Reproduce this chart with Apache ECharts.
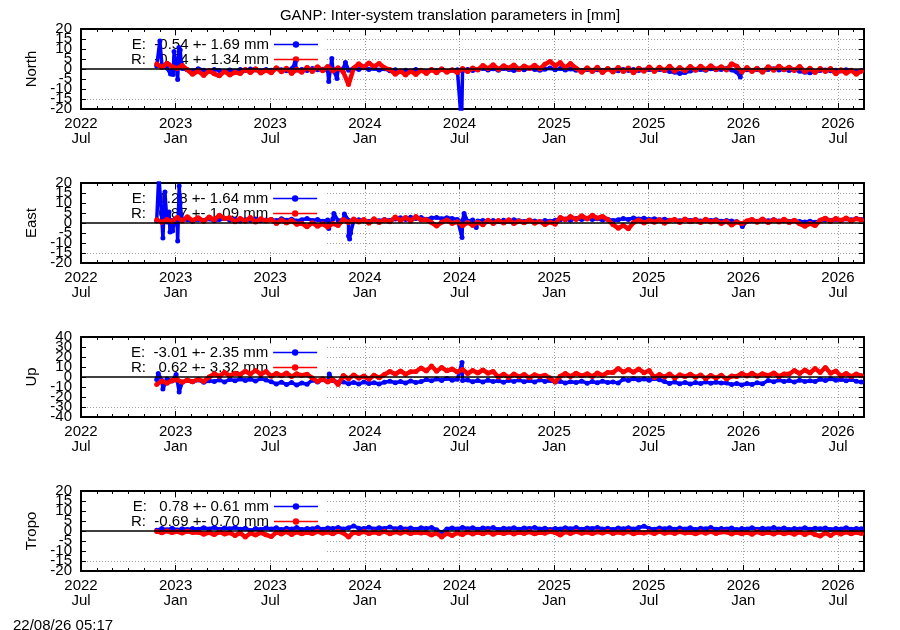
<!DOCTYPE html>
<html>
<head>
<meta charset="utf-8">
<script src="https://cdn.jsdelivr.net/npm/echarts@6/dist/echarts.min.js"></script>
<style>
html, body { margin: 0; padding: 0; background: #fff; }
#chart { width: 900px; height: 630px; }
</style>
</head>
<body>
<div id="chart"></div>
<script>
// daily solutions resampled every 10 days from 2022-11-25
var startDate = Date.UTC(2022, 10, 25);
var stepDays = 10;

var panelNames = ['North', 'East', 'Up', 'Tropo'];
var eLabels = ['E:  -0.54 +- 1.69 mm', 'E:   1.28 +- 1.64 mm', 'E:  -3.01 +- 2.35 mm', 'E:   0.78 +- 0.61 mm'];
var rLabels = ['R:  -0.54 +- 1.34 mm', 'R:   0.87 +- 1.09 mm', 'R:   0.62 +- 3.32 mm', 'R:  -0.69 +- 0.70 mm'];
var yMin = [-20, -20, -40, -20];
var yMax = [20, 20, 40, 20];
var yStep = [5, 5, 10, 5];

var northE = [1.5, 2.0, 0.5, -1.0, 0.8, 0.2,
  -0.4, -0.9, 0.1, -0.6, -1.1, -0.2, -0.8, -1.3, -0.5, -1.0, -0.3, -0.7, 0.0, -0.5, -0.9, -0.2,
  -0.6, 0.2, -0.4, -0.9, 0.1, -0.5, -0.2, -0.8, 0.3, -0.4, -0.1, -0.7, 0.0, -0.5, 0.2,
  -0.6, 0.4, -0.2, 0.6, -0.3, 0.3, -0.5, 0.1,
  -0.9, -0.4, -1.3, -0.6, -1.0, -0.2, -0.8, -1.2, -0.5, -0.9, -0.3, -1.1, -0.6,
  -0.4, -0.9, -0.2, -0.7,
  -0.2, 0.3, -0.5, 0.1, -0.6, 0.2, -0.3, -0.8, 0.0, -0.4, 0.4, -0.2, -0.6,
  -0.1, 0.5, -0.4, 0.2, -0.5, 0.0, -0.6,
  -0.7, -0.2, -1.0, -0.4, -0.8, 0.0, -0.6, -0.9, -0.3, -0.7, -0.2, -0.8, -0.5,
  -0.3, -0.8, -0.2, -0.6, -1.2, -1.6, -2.2, -1.8, -1.0, -0.5,
  -0.2, -0.6, 0.1, -0.4, -0.2, 0.3, -0.5, -1.5,
  -0.9, -0.4, -0.8, -0.2, -0.6, -0.3, 0.1, -0.5, -0.2, -0.7, -0.4, -1.1,
  -1.6, -1.9, -1.4, -0.8, -0.5, -0.9, -0.6, -1.0, -0.4, -0.8, -1.2, -0.9];
var northESpikes = [[6, 14], [27, -2.5], [32, -2.7], [34, 8.7], [38.5, 1], [41, -5.2], [43.5, 10.8],
  [46, 9.5], [48, 3], [267, 3.0], [332, -6.3], [338, 5.3], [348, -4.7], [364, 3.3], [588, -28], [1127, -4.0]];
var northR = [2.5, 0.8, 2.9, 1.2, 0.3, 1.8,
  -0.4, -2.6, -1.0, -3.2, -0.8, -2.4, -3.4, -1.2, -3.0, -1.6,
  -2.3, -0.2, -1.8, 0.1, -2.0, -0.6, -1.9, 0.6, -1.4, 0.4, -2.2, -0.1, -1.6, 0.8,
  -1.2, 1.1, -0.9, 1.3, -1.0, 0.6, -1.5, -7.8,
  0.4, 2.6, 0.9, 3.0, 1.2, 2.8, 0.6,
  -0.3, -2.6, -0.9, -3.0, -1.1, -2.7, -0.6,
  -2.2, -0.2, -1.9, 0.1, -1.6, -0.4, -1.8, 0.3, -1.3, 0.5,
  -0.5, 1.8, 0.2, 2.1, -0.2, 1.6, 0.4, 2.0, -0.3, 1.5, 0.3, 1.9, 0.0,
  2.4, 3.8, 1.6, 3.2, 0.6, 2.7, 0.4,
  -1.6, 0.6, -1.2, 0.9, -1.8, 0.3, -1.5, 0.8, -1.3, 0.5, -1.9, 0.4, -1.1,
  1.0, -1.2, 0.9, -0.8, 1.4, -1.1, 0.7, -0.9, 1.2, -0.6,
  1.4, -0.4, 1.6, -0.2, 1.1, -0.5, 2.6, 1.4,
  -1.5, 0.7, -1.2, 0.4, -1.6, 1.1, -0.6, 1.4, -0.4, 0.9, -0.8, 1.3,
  -1.4, 0.4, -1.7, 0.3, -1.2, 0.2, -2.4, -0.4, -2.1, -0.6, -2.6, -1.0];

var eastE = [1.0, 1.5, 0.5, 1.2, 0.8, 1.5,
  1.6, 0.9, 1.8, 1.2, 2.0, 1.1, 1.7, 2.2, 1.4, 1.9, 1.0, 1.6, 1.3, 2.0, 1.1, 1.5,
  1.8, 1.2, 2.1, 1.4, 1.9, 1.0, 1.6, 2.2, 1.3, 1.7, 0.9, 1.5, 2.0, 1.2, 1.8,
  1.4, 1.0, 1.6, 1.2, 0.8, 1.5, 1.1, 1.7, 1.3,
  2.0, 2.6, 1.8, 2.9, 2.2, 2.7, 1.9, 2.5, 2.8, 2.1, 2.6, 2.3,
  1.8, 1.2, 0.9, 1.5, 1.0, 1.3, 0.8,
  1.2, 0.7, 1.4, 0.9, 1.6, 1.1, 0.8, 1.3, 1.0, 0.6, 1.2, 0.9, 1.4,
  1.6, 2.0, 1.4, 2.2, 1.7, 2.4, 1.8, 2.1, 1.5, 1.9, 1.2, 1.6,
  2.2, 1.8, 2.5, 2.0, 2.4, 1.7, 2.1, 1.6, 1.9, 1.4,
  1.5, 1.1, 1.7, 1.3, 1.8, 1.0, 1.4, 1.2, 1.6, 0.9, 1.3, 1.0, 0.6,
  -0.5, 0.8, 1.2, 0.9, 1.4, 1.1, 1.6, 1.0, 1.3, 0.8, 1.2, 0.7,
  0.5, 0.9, 0.4, 1.1, 1.5, 1.2, 1.8, 1.4, 2.0, 1.6, 2.2, 1.8];
var eastESpikes = [[4, 24], [12, -7.5], [16, 15.5], [22, 1], [24, 5.5], [26, -4.5], [31, -4], [36, 2],
  [41, -9], [44, 18.5], [46, 10], [49, 2], [332, -2.7], [342, 4.8], [362, 4.5], [370, -6.5], [372, -8],
  [374, -5], [589, -7.2], [593, 4.8], [617, -2.2], [1131, -1.8]];
var eastR = [1.6, 0.4, 1.8, 0.6,
  2.8, 1.0, 3.1, 1.2, 2.6, 0.9, 3.0, 1.5, 3.9, 2.2,
  2.6, 0.6, 2.3, 0.9, 2.7, 0.5, 2.1, 1.0,
  1.8, -0.3, 1.5, 0.0, 1.2, -0.6, -0.2, -1.9, 0.1, -1.6, -0.4, -2.0, -0.3, -1.2,
  1.8, 0.2, 2.0, 0.5, 1.7, -0.1, 2.1, 0.3, 1.6, 0.6,
  3.0, 1.2, 2.8, 1.0, 3.2, 1.5,
  1.6, 0.2, -1.5, 0.4, 1.5, -0.2, 0.6, -1.4, 0.3, -1.2, 0.4, -0.9,
  1.4, -0.2, 1.2, 0.0, 1.6, -0.3, 1.0, 0.1, 1.5, -0.1, 0.8, -0.8, 0.5, -0.6,
  2.8, 1.6, 3.2, 1.8, 3.6, 2.0, 3.9, 2.4, 3.3, 1.7, -0.8, -2.6, -1.2, -2.9,
  0.2, 1.5, 0.0, 1.3, 0.4, 1.6, -0.1, 1.2,
  1.8, 0.3, 2.0, 0.6, 1.7, 0.2, 1.9, 0.5,
  1.2, -0.2, 0.9, -1.0, 0.6, -0.4, 1.0,
  1.8, 0.4, 2.0, 0.2, 1.6, 0.5, 1.9, 0.3, 1.4, -0.4, -1.6, -0.2, -1.3,
  1.4, 2.4, 0.9, 2.2, 1.2, 2.5, 1.0, 2.1, 1.5];

var upE = [-2.5, -3.5, -2.0, -4.0,
  -3.2, -5.1, -3.6, -4.8, -3.0, -5.3, -3.8, -4.5, -2.9, -5.0,
  -2.4, -3.8, -2.0, -3.5, -2.2, -4.0, -1.6, -3.1,
  -4.8, -6.9, -5.2, -7.5, -5.6, -8.0, -6.0, -7.2,
  -3.2, -5.0, -2.8, -4.6, -3.5, -5.2,
  -4.9, -6.8, -5.4, -7.1, -5.0, -6.6, -5.8, -7.0, -5.2,
  -4.2, -5.8, -4.5, -6.0, -4.0, -5.5, -4.6,
  -2.6, -3.8, -2.0, -3.4, -1.4, -3.2, -2.3, -3.6,
  -3.0, -4.8, -3.5, -5.0, -3.2, -4.6, -3.8, -5.2, -3.4, -4.4,
  -3.1, -4.7, -3.5, -5.0, -2.9, -4.4, -3.6, -4.9,
  -4.4, -6.0, -4.8, -5.6, -4.2, -6.2, -4.6, -5.8, -4.3, -5.5, -4.9, -6.1,
  -2.2, -3.4, -1.8, -3.0, -2.0, -3.3, -1.6, -2.8,
  -4.6, -6.4, -5.0, -6.8, -5.4, -7.0, -5.6, -6.6, -4.9, -6.2, -5.2, -6.0,
  -6.0, -7.6, -6.4, -8.0, -6.6, -7.4, -5.8, -6.8,
  -3.4, -4.8, -3.0, -4.5, -3.6, -5.0, -3.2, -4.4, -3.8, -4.6,
  -2.2, -3.6, -1.8, -3.2, -2.4, -3.8, -2.6, -4.2, -5.0];
var upESpikes = [[3, 3.5], [12, -12], [38, 2.5], [44, -15], [333, 3.0], [589, 14.5]];
var upR = [-7.5, -4.0, -6.2, -3.5,
  -2.8, -5.2, -3.0, -4.8, -2.2, -4.5,
  0.0, 3.2, 0.8, 4.5, 1.2, 3.8,
  2.5, 5.8, 3.0, 6.5, 2.8, 5.5,
  0.8, 3.6, 1.2, 4.0, 0.4, 3.2, 1.5, 2.8,
  -1.0, -4.5, -1.8, -5.0, -2.4, -7.5,
  1.5, -1.8, 2.0, -1.2, 1.0, -2.2, 1.8, -0.8,
  2.5, 5.5, 3.0, 6.0, 2.8, 5.2,
  5.5, 9.0, 6.0, 11.0, 5.8, 9.5, 6.2, 8.0, 5.0, 7.6,
  3.5, 6.5, 4.0, 7.0, 3.8, 5.5,
  0.0, 2.8, -0.5, 3.0, 0.2, 2.5, -0.8, 2.2, 0.5, 1.8,
  -1.0, -5.0,
  0.8, 3.5, 0.5, 3.8, 1.2, 3.2, 0.6, 4.0, 1.5, 4.5,
  4.5, 8.5, 5.0, 7.5, 4.8, 8.0, 4.2, 6.5,
  -0.5, 2.5, 0.0, 3.0, -1.0, 2.2, 0.5, 2.8, -0.2, 2.0,
  -1.5, 1.5, -1.0, 1.8, -2.0, 1.0,
  0.5, 3.5, 1.0, 3.8, 0.8, 3.2, 1.5, 4.0, 0.6, 3.0,
  3.0, 6.5, 3.5, 7.0, 4.0, 8.5, 4.5, 9.5, 3.8, 6.0,
  1.0, 3.5, 0.5, 3.0, 1.2];

var tropoE = [0.4, 1.2, 0.6, 1.4, 0.5, 1.1, 0.7, 1.3,
  0.9, 1.6, 1.0, 1.8, 0.8, 1.5, 1.1, 1.7, 0.9, 1.4, 0.2, 1.2, 0.8, 1.5,
  1.0, 1.6, 0.7, 1.4, 1.0, 1.7, 0.8, 1.3,
  1.1, 1.7, 0.9, 1.5, 1.2, 1.8, 1.0, 1.6, 2.5, 1.4,
  1.2, 1.9, 1.0, 1.6, 1.3, 2.0, 1.1, 1.7, 1.0, 1.5, 0.9, 1.6, 1.2, 1.8, 0.6, -0.8, 1.0, 1.5,
  1.0, 1.8, 1.1, 1.6, 0.9, 1.5, 1.2, 1.7, 0.8, 1.4, 1.1, 1.6, 0.9, 1.5, 1.2, 1.8, 1.0, 1.4, 0.8, 1.3, 1.0, 1.6,
  1.1, 1.7, 0.9, 1.5, 1.2, 1.8, 1.0, 1.4, 0.8, 1.5, 1.1, 1.6, 1.0, 1.7, 2.4, 1.3, 0.9, 1.5, 1.1, 1.6,
  0.9, 1.5, 1.0, 1.6, 0.8, 1.4, 1.1, 1.7, 0.9, 1.3, 1.0, 1.5, 0.7, 1.2, 1.0, 1.6, 0.9, 1.4, 1.1,
  1.7, 1.0, 1.5, 0.8, 1.3, 1.0, 1.6, 0.9, 1.4, 1.1, 1.5, 0.8, 1.2, 1.0, 1.6, 0.9, 1.3, 1.1];
var tropoR = [-0.2, -0.9, 0.0, -0.8, -0.3, -1.0, -0.1, -0.7,
  -0.6, -1.6, -0.8, -1.8, -0.5, -1.5,
  -0.9, -2.2, -1.0, -3.0, -1.1, -2.0, -0.8, -1.9,
  -2.8, -0.6, -1.5, -0.4, -1.7, -0.5, -1.4, -0.7,
  -1.3, -0.3, -1.1, -0.5, -1.4, -0.2, -1.0, -3.0, -0.6, -1.2,
  -0.3, -1.3, -0.5, -1.2, -0.2, -1.4, -0.4, -1.1, -0.3, -1.3, -0.6, -1.0,
  -0.8, -2.0, -1.0, -3.0, -1.2, -2.2, -0.9, -1.8,
  -0.5, -1.5, -0.6, -1.4, -0.4, -1.6, -0.7, -1.3, -0.5, -1.5, -0.6, -1.2, -0.4, -1.4, -0.7, -1.1,
  -0.3, -0.8, -2.0, -0.4,
  -1.2, -0.3, -1.1, -0.5, -1.3, -0.4, -1.0, -0.2, -1.2, -0.5, -1.1, -0.3, -1.4, -0.6, -1.0,
  -0.4, -1.3, -0.2, -1.1, -0.5, -1.2, -0.3, -1.0, -0.6, -1.4, -0.4, -1.1, -0.3, -1.2, -0.5,
  -0.5, -1.5, -0.6, -1.4, -0.7, -1.6, -0.4, -1.3, -0.6, -1.5, -0.5, -1.4, -0.8, -1.6,
  -0.5, -1.7, -0.6, -1.8, -2.5, -0.9, -2.2, -0.7, -1.5, -0.5, -1.4, -0.6, -1.2];

var eValues = [northE, eastE, upE, tropoE];
var eSpikes = [northESpikes, eastESpikes, upESpikes, []];
var rValues = [northR, eastR, upR, tropoR];

// x axis unit: months since 2022-07-01
function toMonths(dayOffset) {
  var d = new Date(startDate + dayOffset * 86400000);
  var y = d.getUTCFullYear(), m = d.getUTCMonth();
  var dim = new Date(Date.UTC(y, m + 1, 0)).getUTCDate();
  var frac = (d.getUTCDate() - 1 + d.getUTCHours() / 24) / dim;
  return (y - 2022) * 12 + (m - 6) + frac;
}
function buildData(values, spikes) {
  var pts = values.map(function (v, i) { return [i * stepDays, v]; });
  (spikes || []).forEach(function (s) { pts.push(s); });
  pts.sort(function (a, b) { return a[0] - b[0]; });
  return pts.map(function (p) { return [toMonths(p[0]), p[1]]; });
}
function monthLabel(v) {
  var m = Math.round(v);
  if (m % 6 !== 0) return '';
  var year = 2022 + Math.floor((m + 6) / 12);
  return year + '\n' + (m % 12 === 0 ? 'Jul' : 'Jan');
}

var FONT = 'Liberation Sans';
var FS = 15;
var xMax = 49.65;
var panelTops = [29, 183, 337, 491];
var plotH = 80;
var grids = [], xAxes = [], yAxes = [], series = [], legends = [], graphics = [];
var dotted = { show: true, lineStyle: { color: '#a0a0a0', width: 1, type: [1, 2] } };
var labelStyle = { color: '#000', fontSize: FS, fontFamily: FONT, margin: 9 };

panelNames.forEach(function (name, g) {
  grids.push({ left: 81, right: 36, top: panelTops[g], height: plotH });

  function xAxis(pos, interval, len, main) {
    return {
      gridIndex: g, type: 'value', position: pos, min: 0, max: xMax, interval: interval,
      axisLine: { show: main, onZero: false, lineStyle: { color: '#000', width: 2 } },
      axisTick: { inside: true, length: len, lineStyle: { color: '#000', width: 1 } },
      axisLabel: (main && pos === 'bottom') ? {
        formatter: monthLabel, showMaxLabel: false, color: '#000', fontSize: FS,
        fontFamily: FONT, lineHeight: 15, margin: 7
      } : { show: false },
      splitLine: (main && pos === 'bottom') ? dotted : { show: false }
    };
  }
  xAxes.push(xAxis('bottom', 6, 6, true));
  xAxes.push(xAxis('bottom', 1, 3, false));
  xAxes.push(xAxis('top', 6, 6, true));
  xAxes.push(xAxis('top', 1, 3, false));

  // inner tick labels (end labels come from the axis below so none get dropped)
  yAxes.push({
    gridIndex: g, type: 'value', position: 'left', min: yMin[g], max: yMax[g], interval: yStep[g],
    name: name, nameLocation: 'middle', nameGap: 41,
    nameTextStyle: { color: '#000', fontSize: FS, fontFamily: FONT },
    axisLine: { show: true, onZero: false, lineStyle: { color: '#000', width: 2 } },
    axisTick: { inside: true, length: 5, lineStyle: { color: '#000' } },
    axisLabel: Object.assign({ showMinLabel: false, showMaxLabel: false }, labelStyle),
    splitLine: dotted
  });
  yAxes.push({
    gridIndex: g, type: 'value', position: 'right', min: yMin[g], max: yMax[g], interval: yStep[g],
    axisLine: { show: true, onZero: false, lineStyle: { color: '#000', width: 2 } },
    axisTick: { inside: true, length: 5, lineStyle: { color: '#000' } },
    axisLabel: { show: false }, splitLine: { show: false }
  });
  yAxes.push({
    gridIndex: g, type: 'value', position: 'left', min: yMin[g], max: yMax[g],
    interval: (yMax[g] - yMin[g]) / 2,
    axisLine: { show: false, onZero: false }, axisTick: { show: false }, splitLine: { show: false },
    axisLabel: Object.assign({
      showMinLabel: true, showMaxLabel: true,
      formatter: function (v) { return (v === yMin[g] || v === yMax[g]) ? String(v) : ''; }
    }, labelStyle)
  });

  series.push({
    name: eLabels[g], type: 'line', xAxisIndex: 4 * g, yAxisIndex: 3 * g,
    data: buildData(eValues[g], eSpikes[g]), clip: true, z: 2,
    symbol: 'circle', symbolSize: 5, showSymbol: true,
    itemStyle: { color: '#0000ff' }, lineStyle: { color: '#0000ff', width: 3.5 }
  });
  series.push({
    name: rLabels[g], type: 'line', xAxisIndex: 4 * g, yAxisIndex: 3 * g,
    data: buildData(rValues[g], []), clip: true, z: 3,
    symbol: 'circle', symbolSize: 5, showSymbol: true,
    itemStyle: { color: '#ff0000' }, lineStyle: { color: '#ff0000', width: 4.5 },
    markLine: {
      silent: true, animation: false, symbol: ['none', 'none'],
      label: { show: false }, lineStyle: { color: '#000', width: 1.5, type: 'solid' },
      data: [{ yAxis: 0 }]
    }
  });

  legends.push({
    data: [eLabels[g], rLabels[g]], orient: 'vertical', left: 131, top: panelTops[g] + 8,
    align: 'right', itemWidth: 44, itemHeight: 8, itemGap: 0, padding: 0, z: 1,
    selectedMode: false,
    itemStyle: { borderWidth: 0 },
    lineStyle: { width: 1.5 },
    textStyle: { color: '#000', fontSize: FS, fontFamily: FONT, lineHeight: 15 }
  });

  // key area keeps the grid clear, as in the original plot
  graphics.push({
    type: 'rect', z: 0.5, silent: true,
    shape: { x: 87, y: panelTops[g] + 7, width: 240, height: plotH * 0.84 - 7 },
    style: { fill: '#fff' }
  });
});

var chart = echarts.init(document.getElementById('chart'), null, { renderer: 'canvas' });
chart.setOption({
  animation: false,
  backgroundColor: '#fff',
  title: [
    { text: 'GANP: Inter-system translation parameters in [mm]', left: 'center', top: 3,
      textStyle: { color: '#000', fontSize: FS, fontWeight: 'normal', fontFamily: FONT } },
    { text: '22/08/26 05:17', left: 8, top: 613,
      textStyle: { color: '#000', fontSize: FS, fontWeight: 'normal', fontFamily: FONT } }
  ],
  legend: legends,
  grid: grids,
  xAxis: xAxes,
  yAxis: yAxes,
  graphic: graphics,
  series: series
});
</script>
</body>
</html>
